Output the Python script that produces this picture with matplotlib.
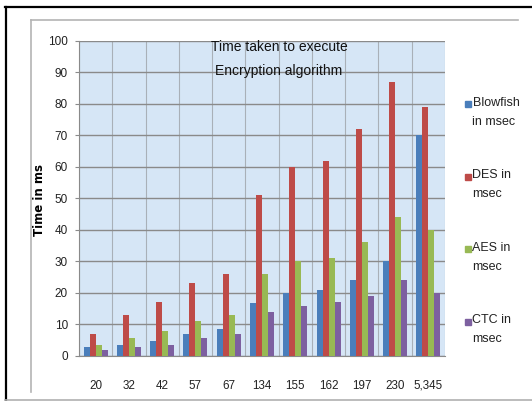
import numpy as np
import matplotlib
matplotlib.use("Agg")
import matplotlib.pyplot as plt
from matplotlib.lines import Line2D
from matplotlib.patches import Rectangle

sizes = ["20", "32", "42", "57", "67", "134", "155", "162", "197", "230", "5,345"]
blowfish = [2.8, 3.5, 4.8, 7, 8.7, 16.7, 20, 21, 24, 30, 70]
des = [7, 13, 17, 23, 26, 51, 60, 62, 72, 87, 79]
aes = [3.6, 5.8, 7.8, 11, 13, 26, 30, 31, 36, 44, 40]
ctc = [1.9, 2.8, 3.5, 5.8, 7, 14, 16, 17, 19, 24, 20]

series_names = ["Blowfish\nin msec", "DES in\nmsec", "AES in\nmsec", "CTC in\nmsec"]
colors = ["#4a7ebb", "#be4b48", "#98b954", "#7d60a0"]

plt.rcParams['font.family'] = ['Liberation Sans', 'DejaVu Sans']

W, H = 532, 401
def fx(x):
    return x / W
def fy(y):
    return 1 - y / H

fig = plt.figure(figsize=(W / 100, H / 100), dpi=100)

# frame lines around the chart
fig.add_artist(Line2D([fx(5), fx(532)], [fy(7.3), fy(7.3)], color='black', lw=1.6))
fig.add_artist(Line2D([fx(5.5), fx(5.5)], [fy(7), fy(399.5)], color='black', lw=1.6))
fig.add_artist(Line2D([fx(5), fx(532)], [fy(399.5), fy(399.5)], color='#b0b0b0', lw=1.2))
fig.add_artist(Line2D([fx(31), fx(517.5)], [fy(20), fy(20)], color='#b4b4b4', lw=1.2))
fig.add_artist(Line2D([fx(31), fx(31)], [fy(20), fy(392)], color='#b4b4b4', lw=1.2))

ax = fig.add_axes([fx(79), fy(356), (445 - 79) / W, (356 - 40.7) / H])
ax.set_facecolor('#d6e6f6')

x = np.arange(len(sizes))
w = 0.18
for i, vals in enumerate([blowfish, des, aes, ctc]):
    ax.bar(x + (i - 1.5) * w, vals, w, color=colors[i], zorder=3)

ax.set_xlim(-0.5, len(sizes) - 0.5)
ax.set_ylim(0, 100)
ax.set_yticks(range(0, 101, 10))
ax.set_xticks(x)
ax.set_xticklabels(sizes)
ax.set_xticks(np.arange(-0.5, len(sizes), 0.5), minor=True)

ax.set_axisbelow(True)
ax.yaxis.grid(True, color='#8a8a8a', lw=1.0)
ax.xaxis.grid(True, which='minor', color='#a9b0b8', lw=0.8)
ax.xaxis.grid(False, which='major')

for s in ['top', 'right']:
    ax.spines[s].set_visible(False)
ax.spines['left'].set_color('#8a8a8a')
ax.spines['bottom'].set_color('#8a8a8a')

ax.tick_params(axis='y', length=3, color='#8a8a8a', pad=5, labelsize=8.5, labelcolor='#222222')
ax.tick_params(axis='x', which='both', length=0, pad=17, labelsize=8.4, labelcolor='#222222')

ax.set_ylabel("Time in ms", family='DejaVu Sans', fontweight='bold', fontsize=8.5, va='center')
ax.yaxis.set_label_coords((40 - 79) / 366, 0.495)

ax.text((279 - 79) / 366, (356 - 58.9) / 315.3, "Time taken to execute\nEncryption algorithm",
        transform=ax.transAxes, ha='center', va='center', fontsize=10, linespacing=1.9,
        color='#111111')

# legend on the right
for i, name in enumerate(series_names):
    yc = 112.2 + i * 72.5
    fig.add_artist(Rectangle((fx(464.5), fy(yc - 8 + 3)), 6 / W, 6 / H,
                             transform=fig.transFigure, color=colors[i]))
    fig.text(fx(472.5), fy(yc), name, ha='left', va='center', fontsize=9,
             linespacing=1.8, color='#222222')

fig.savefig("out.png", dpi=100)
